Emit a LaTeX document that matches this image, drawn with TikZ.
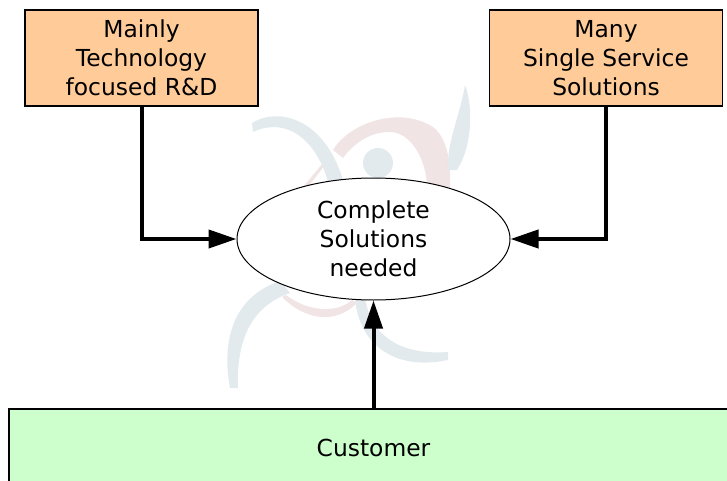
\documentclass[tikz,border=0pt]{standalone}
\usepackage{fontspec}
\setmainfont{DejaVu Sans}
\usetikzlibrary{arrows.meta, positioning, shapes.geometric}
\definecolor{boxorange}{HTML}{FFCC99}
\definecolor{boxgreen}{HTML}{CCFFCC}
\definecolor{logoblue}{HTML}{E2EAED}
\definecolor{logored}{HTML}{F0E4E4}
\tikzset{
  label text/.style={font=\fontsize{23.4}{29}\selectfont, align=center, text=black},
  topbox/.style={label text, draw=black, line width=1.3pt, fill=boxorange, minimum width=233pt, minimum height=96pt},
  link/.style={line width=4pt, -{Triangle[length=28pt, width=18pt]}}
}
\begin{document}
\begin{tikzpicture}[x=1pt, y=-1pt]
  \useasboundingbox (0, 0) rectangle (727, 481);

  % watermark
  \fill[logored] (333, 150) .. controls (350, 122) and (400, 106) .. (433, 127)
    .. controls (447, 138) and (451, 160) .. (450, 190) -- (427, 190)
    .. controls (428, 165) and (413, 130) .. (387, 132)
    .. controls (370, 133) and (355, 142) .. (343, 158) -- cycle;
  \fill[logored] (282, 297) .. controls (305, 320) and (335, 325) .. (357, 303)
    -- (352, 300) .. controls (335, 315) and (305, 310) .. (286, 295) -- cycle;
  \fill[logored] (303, 187) -- (323, 163) -- (325, 165) -- (308, 187) -- cycle;
  \fill[logoblue] (252, 123) .. controls (280, 106) and (325, 120) .. (343, 180)
    -- (328, 182) .. controls (318, 145) and (290, 115) .. (253, 132) -- cycle;
  \fill[logoblue] (465, 85) .. controls (473, 105) and (473, 145) .. (457, 170)
    -- (448, 170) .. controls (446, 145) and (460, 115) .. (465, 85) -- cycle;
  \fill[logoblue] (378, 163) circle (15);
  \fill[logoblue] (230, 388) .. controls (222, 345) and (230, 298) .. (280, 281)
    -- (290, 293) .. controls (255, 305) and (236, 335) .. (238, 388) -- cycle;
  \fill[logoblue] (355, 298) .. controls (358, 340) and (390, 372) .. (448, 360)
    -- (448, 352) .. controls (405, 355) and (372, 340) .. (365, 298) -- cycle;

  \node[topbox] (tech) at (141.5, 58) {Mainly\\Technology\\focused R\&D};
  \node[topbox] (single) at (606, 58) {Many\\Single Service\\Solutions};
  \node[label text, ellipse, draw=black, line width=1pt, fill=white, minimum width=273pt, minimum height=122pt, inner sep=0pt] (need) at (373.5, 239) {Complete\\Solutions\\needed};
  \node[label text, draw=black, line width=1.3pt, fill=boxgreen, minimum width=729pt, minimum height=78pt] (cust) at (373.5, 448) {Customer};

  \draw[link] (tech.south) |- (need.west);
  \draw[link] (single.south) |- (need.east);
  \draw[link] (cust.north) -- (need.south);
\end{tikzpicture}
\end{document}
